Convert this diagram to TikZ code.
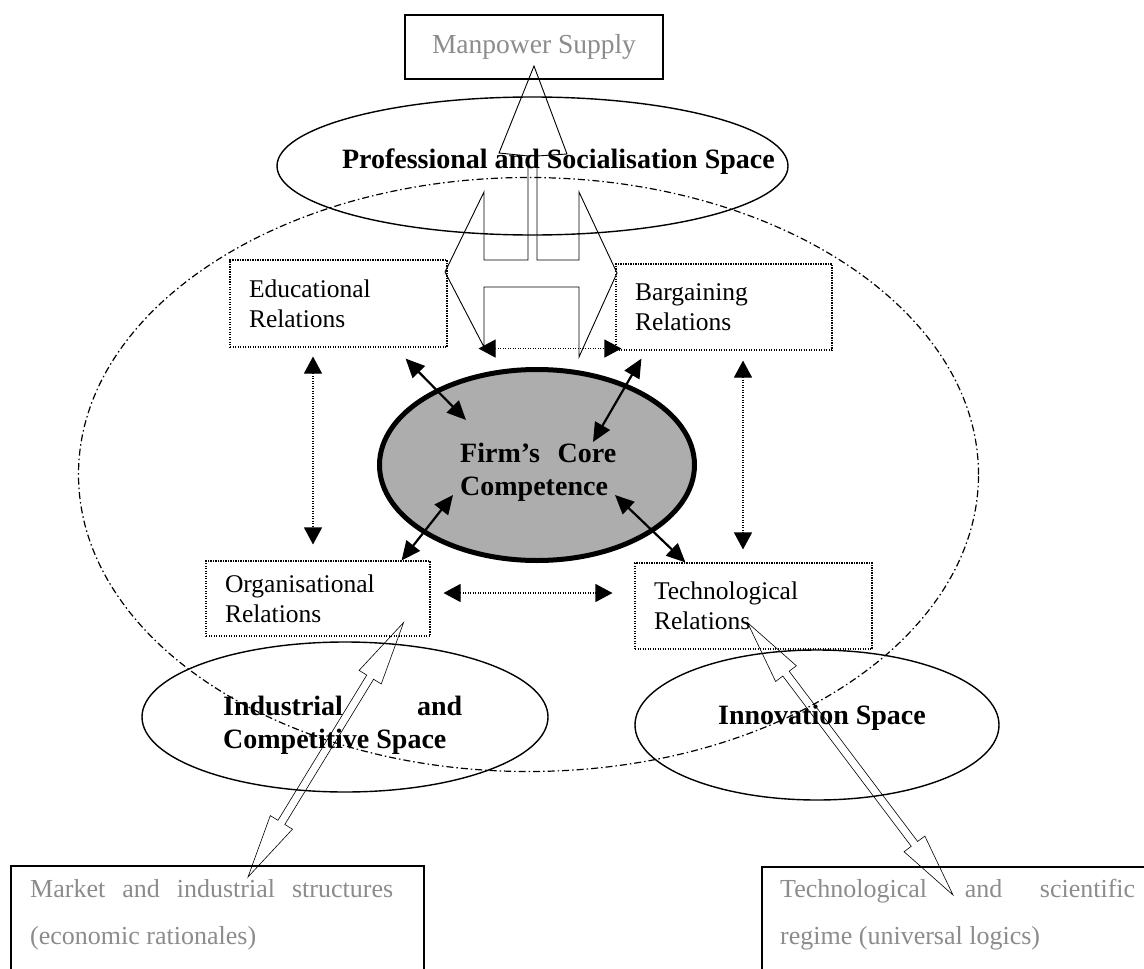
\documentclass[tikz,border=0pt]{standalone}
\usepackage{fontspec}
\setmainfont{Liberation Serif}
\usetikzlibrary{shapes.geometric,arrows.meta,calc}
\tikzset{
  relbox/.style={draw, rectangle, line width=1.1pt, dash pattern=on 1.1pt off 1.4pt,
    inner xsep=19pt, inner ysep=2pt, align=left, font=\fontsize{25.5}{30}\selectfont},
  spaceell/.style={draw, ellipse, line width=1.4pt, inner sep=0pt},
  boldtxt/.style={font=\bfseries\fontsize{28}{33}\selectfont, inner sep=0pt},
  graytxt/.style={text=black!45, font=\fontsize{26}{47}\selectfont, inner sep=0pt},
  solidbox/.style={draw, rectangle, line width=1.6pt, inner sep=0pt},
  corearrow/.style={line width=2.2pt, {Triangle[length=19pt,width=17pt]}-{Triangle[length=19pt,width=17pt]}},
  dotarrow/.style={line width=1.1pt, dash pattern=on 1.1pt off 1.4pt,
    {Triangle[length=17pt,width=18pt]}-{Triangle[length=17pt,width=18pt]}},
  hollowshape/.style={draw, line width=0.9pt, line join=miter},
  blockarrow/.style={draw, line width=0.6pt, line join=miter},
}
\newcommand\hollowarrow[2]{%
  \draw[blockarrow] let \p1=($(#2)-(#1)$), \n1={atan2(\y1,\x1)} in
    (#1) -- ($(#1)+(\n1:64pt)+(\n1+90:13pt)$) -- ($(#1)+(\n1:64pt)+(\n1+90:4pt)$)
    -- ($(#2)+(\n1+180:64pt)+(\n1+90:4pt)$) -- ($(#2)+(\n1+180:64pt)+(\n1+90:13pt)$) -- (#2)
    -- ($(#2)+(\n1+180:64pt)+(\n1-90:13pt)$) -- ($(#2)+(\n1+180:64pt)+(\n1-90:4pt)$)
    -- ($(#1)+(\n1:64pt)+(\n1-90:4pt)$) -- ($(#1)+(\n1:64pt)+(\n1-90:13pt)$) -- cycle;}
\begin{document}
\begin{tikzpicture}[x=1pt,y=-1pt]
\useasboundingbox (0,0) rectangle (1144,969);
\clip (0,0) rectangle (1144,969);
\fill[white] (0,0) rectangle (1144,969);

% outer dash-dot ellipse
\node[draw, ellipse, minimum width=900pt, minimum height=594pt, inner sep=0pt,
  line width=1.2pt, dash pattern=on 7pt off 3pt on 1.5pt off 3pt] (outer) at (528.5,474.5) {};

% manpower supply
\node[solidbox, line width=1.5pt, minimum width=258pt, minimum height=64pt, text=black!45,
  font=\fontsize{27.5}{30}\selectfont] (manpower) at (534,47) {Manpower Supply};

% professional space
\node[spaceell, minimum width=511pt, minimum height=138pt] (prof) at (532.5,166) {};
\node[boldtxt, anchor=base east] (proftext) at (775,168) {Professional and Socialisation Space};

% hollow split arrow
\draw[hollowshape] (484,347) -- (445,272) -- (484,192) -- (484,260) -- (528,260) -- (528,156)
  -- (499,153) -- (534,66) -- (567,154) -- (537,156) -- (537,260) -- (579,260) -- (579,192)
  -- (617,273) -- (579,357) -- (579,287) -- (484,287) -- cycle;

% relation boxes
\node[relbox, text width=179pt, minimum height=87pt] (edu) at (338.5,303.5) {Educational\\Relations};
\node[relbox, text width=178pt, minimum height=86pt] (barg) at (724,307) {Bargaining\\Relations};
\node[relbox, text width=186pt, minimum height=75pt] (org) at (318,598.5) {Organisational\\Relations};
\node[relbox, text width=199pt, minimum height=86pt] (tech) at (753.5,606) {Technological\\Relations};

% core competence
\node[draw, ellipse, line width=5pt, fill=black!32, minimum width=315pt, minimum height=191pt,
  inner sep=0pt] (core) at (537,465) {};
\node[boldtxt, anchor=base west] (coretext) at (460,462)
  {\parbox[t]{156pt}{\makebox[156pt][s]{Firm’s Core}\\Competence}};

% dotted double arrows
\draw[dotarrow] ($(edu.south)+(-25.5,9)$) -- ($(org.north)+(-5,-16)$);
\draw[dotarrow] ($(barg.south)+(19,10)$) -- ($(tech.north)+(-10.5,-13)$);
\draw[dotarrow] ($(edu.south east)+(31,1)$) -- ($(barg.south west)+(6,-2)$);
\draw[dotarrow] ($(org.east)+(13,-5.5)$) -- ($(tech.west)+(-22,-13)$);

% core arrows
\draw[corearrow] ($(edu.south east)+(-42,11)$) -- ($(core)+(-71,-45)$);
\draw[corearrow] ($(barg.south west)+(26,8)$) -- ($(core)+(56,-23)$);
\draw[corearrow] ($(core)+(-84,30)$) -- ($(org.north east)+(-29,0)$);
\draw[corearrow] ($(core)+(78,30)$) -- ($(tech.north west)+(51,0)$);

% lower spaces
\node[spaceell, minimum width=406pt, minimum height=150pt] (ind) at (345,717) {};
\node[boldtxt, anchor=base west] (indtext) at (223,715)
  {\parbox[t]{239pt}{Industrial\hfill and\\Competitive Space}};
\node[spaceell, minimum width=364pt, minimum height=150pt] (innov) at (817,725) {};
\node[boldtxt, anchor=base] (innovtext) at (822,724) {Innovation Space};

% bottom boxes
\node[solidbox, anchor=north west, minimum width=413pt, minimum height=140pt] (market) at (10,865) {};
\node[graytxt, anchor=base west] (markettext) at (30,897)
  {\parbox[t]{363pt}{\makebox[363pt][s]{Market and industrial structures}\\(economic rationales)}};
\node[solidbox, anchor=north west, minimum width=400pt, minimum height=140pt] (techsci) at (761,866) {};
\node[graytxt, anchor=base west] (techscitext) at (780,897)
  {\parbox[t]{355pt}{\makebox[355pt][s]{Technological and scientific}\\regime (universal logics)}};

% hollow double block arrows
\coordinate (a1s) at ($(org.south east)+(-27,-14)$);
\coordinate (a1e) at ($(market.north west)+(238,12)$);
\coordinate (a2s) at ($(tech.south west)+(113,-27)$);
\coordinate (a2e) at ($(techsci.north west)+(192,29)$);
\hollowarrow{a1s}{a1e}
\hollowarrow{a2s}{a2e}
\end{tikzpicture}
\end{document}
